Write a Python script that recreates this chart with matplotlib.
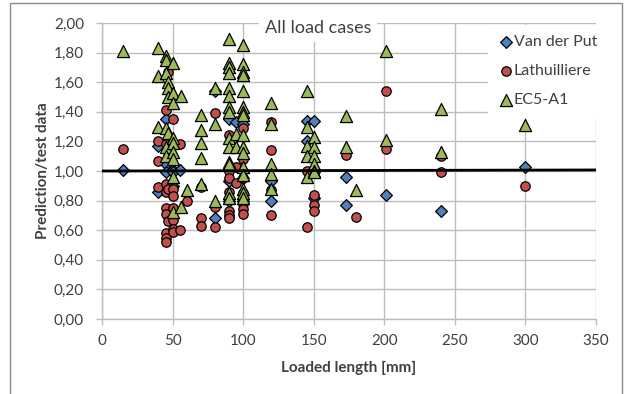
"""Prediction/test ratio vs loaded length for three design models (all load cases)."""

import matplotlib
matplotlib.use("Agg")
import matplotlib.pyplot as plt
from matplotlib.patches import Rectangle
from matplotlib.ticker import FuncFormatter, MultipleLocator

# --- data (x = loaded length [mm], y = prediction/test) ---
vdp_x = [15, 40, 40, 45, 45, 45, 50, 50, 50, 55, 80, 80, 90, 90, 90, 95,
         100, 100, 100, 100, 120, 120, 145, 145, 150, 150, 150, 173, 173,
         201, 240, 300]
vdp_y = [1.01, 0.86, 1.17, 1.35, 1.05, 0.99, 1.01, 0.99, 0.90, 1.01, 0.68, 1.54,
         1.35, 0.80, 0.93, 1.33, 1.32, 1.00, 0.95, 0.80, 0.80, 0.93, 1.34, 1.20,
         1.34, 0.82, 0.99, 0.96, 0.77, 0.84, 0.73, 1.03]

lat_x = [15, 40, 40, 40, 45, 45, 45, 45, 45, 45, 45, 45, 45, 47, 47, 47, 47,
         50, 50, 50, 50, 50, 50, 50, 55, 55, 60, 70, 70, 70, 80, 80, 80,
         90, 90, 90, 90, 90, 90, 90, 95, 95, 100, 100, 100, 100, 100, 100, 100,
         120, 120, 120, 120, 145, 145, 150, 150, 150, 173, 180, 201, 201,
         240, 240, 300]
lat_y = [1.15, 1.20, 1.07, 0.89, 1.41, 1.18, 0.91, 0.86, 0.75, 0.71, 0.58, 0.55,
         0.52, 1.67, 1.10, 0.88, 0.66, 1.35, 0.88, 0.83, 0.75, 0.67, 0.61, 0.59,
         1.18, 0.60, 0.80, 0.89, 0.68, 0.63, 1.39, 0.76, 0.62, 1.24, 1.00, 0.95,
         0.86, 0.73, 0.70, 0.68, 0.92, 1.03, 1.29, 1.08, 0.95, 0.85, 0.78, 0.74,
         0.71, 1.33, 1.14, 0.87, 0.70, 1.00, 0.62, 0.84, 0.77, 0.73, 1.11, 0.69,
         1.54, 1.15, 1.10, 0.99, 0.90]

ec5_x = [15, 40, 40, 40, 45, 45, 45, 45, 45, 45, 47, 47, 47, 47,
         50, 50, 50, 50, 50, 50, 50, 50, 50, 56, 56, 60,
         70, 70, 70, 70, 70, 80, 80, 80,
         90, 90, 90, 90, 90, 90, 90, 90, 90, 90, 90, 90, 90, 90, 95, 95,
         100, 100, 100, 100, 100, 100, 100, 100, 100, 100, 100, 100, 100, 100, 100, 100,
         120, 120, 120, 120, 120, 145, 145, 145, 145, 145,
         150, 150, 150, 150, 150, 150, 173, 173, 180, 201, 201, 240, 240, 300]
ec5_y = [1.81, 1.83, 1.64, 1.30, 1.78, 1.75, 1.66, 1.29, 1.16, 1.10, 1.60, 1.56,
         1.50, 1.26, 1.73, 1.53, 1.46, 1.22, 1.19, 1.13, 1.08, 0.96, 0.72, 1.51,
         0.76, 0.87, 1.38, 1.28, 1.19, 1.09, 0.91, 1.56, 1.32, 0.80,
         1.89, 1.73, 1.70, 1.66, 1.56, 1.51, 1.43, 1.40, 1.22, 1.16, 1.06, 1.05,
         0.85, 0.82, 1.25, 1.16,
         1.85, 1.72, 1.67, 1.65, 1.54, 1.43, 1.40, 1.38, 1.24, 1.16, 1.12, 1.03,
         0.97, 0.88, 0.85, 0.82, 1.46, 1.32, 1.05, 0.98, 0.88, 1.54, 1.30, 1.17,
         1.10, 0.96, 1.23, 1.16, 1.10, 1.05, 1.00, 0.99, 1.37, 1.16, 0.87, 1.81,
         1.21, 1.42, 1.13, 1.31]

ref_x = [0, 350]
ref_y = [1.0, 1.007]

series = [
    ("Van der Put", vdp_x, vdp_y, "D", "#4F81BD", 36),
    ("Lathuilliere", lat_x, lat_y, "o", "#C0504D", 46),
    ("EC5-A1", ec5_x, ec5_y, "^", "#9BBB59", 76),
]

plt.rcParams["font.family"] = ["Lato", "DejaVu Sans"]

fig = plt.figure(figsize=(6.29, 3.94), dpi=100)
fig.patches.append(Rectangle((10 / 629, -0.02), 612 / 629, 1 - 3 / 394 + 0.02,
                             transform=fig.transFigure, fill=False,
                             edgecolor="#8c8c8c", linewidth=1.0))
ax = fig.add_axes([102 / 629, 1 - 319 / 394, 494 / 629, 296 / 394])

for name, xs, ys, marker, color, size in series:
    ax.scatter(xs, ys, marker=marker, s=size, facecolor=color, edgecolor="black",
               linewidth=0.9, label=name, zorder=3)
ax.plot(ref_x, ref_y, color="black", linewidth=2.0, zorder=4)

ax.set_xlim(0, 350)
ax.set_ylim(0, 2.0)
ax.xaxis.set_major_locator(MultipleLocator(50))
ax.yaxis.set_major_locator(MultipleLocator(0.2))
ax.yaxis.set_major_formatter(FuncFormatter(lambda v, _: f"{v:.2f}".replace(".", ",")))
ax.grid(True, color="#bdbdbd", linewidth=1.0, zorder=0)
ax.set_axisbelow(True)
for side in ("top", "right"):
    ax.spines[side].set_visible(False)
for side in ("left", "bottom"):
    ax.spines[side].set_color("#bdbdbd")
    ax.spines[side].set_linewidth(1.0)
ax.tick_params(colors="#bdbdbd", labelcolor="#404040", labelsize=11, length=4, width=1.0)
ax.tick_params(axis="y", pad=9)
ax.tick_params(axis="x", pad=7)
ax.set_xlabel("Loaded length [mm]", fontsize=11, fontweight="bold", color="#404040", labelpad=9)
ax.set_ylabel("Prediction/test data", fontsize=11, fontweight="bold", color="#404040", labelpad=3)

ax.text(318 / 629, 1 - 28 / 394, "All load cases", transform=fig.transFigure,
        ha="center", va="center", fontsize=13, color="#404040", zorder=6,
        bbox=dict(facecolor="white", edgecolor="none", pad=4))

leg = ax.legend(loc="upper left", bbox_to_anchor=(488 / 629, 1 - 25 / 394),
                bbox_transform=fig.transFigure, frameon=True, fancybox=False,
                edgecolor="white", facecolor="white", framealpha=1.0,
                fontsize=11.5, handletextpad=0.0, handlelength=1.0,
                labelspacing=0.95, borderpad=0.6, borderaxespad=0)
leg.set_zorder(6)
for t in leg.get_texts():
    t.set_color("#404040")

fig.savefig("out.png", dpi=100)
